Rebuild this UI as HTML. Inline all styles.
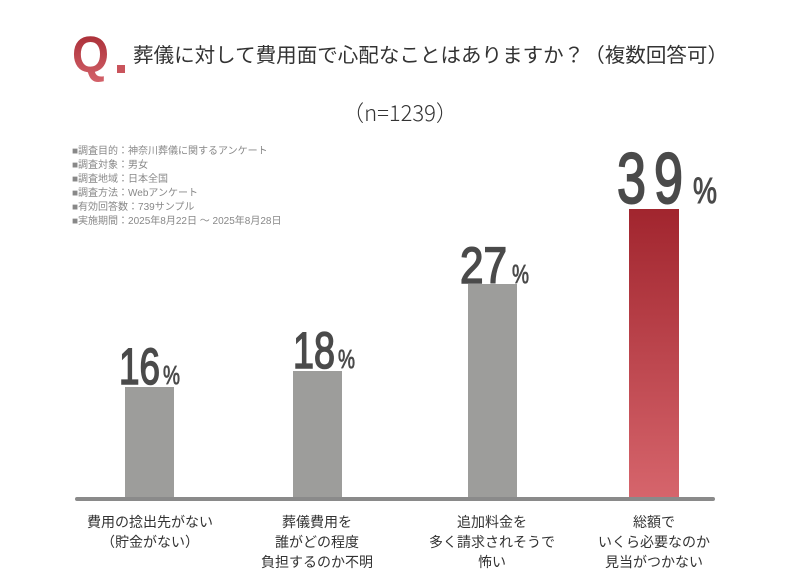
<!DOCTYPE html>
<html><head><meta charset="utf-8"><style>
html,body{margin:0;padding:0;background:#fff;}
svg{display:block;font-family:"Liberation Sans","Noto Sans CJK JP",sans-serif;}
</style></head><body>
<svg width="800" height="581" viewBox="0 0 800 581" xmlns="http://www.w3.org/2000/svg">
<defs>
<linearGradient id="gq" x1="0" y1="0" x2="0" y2="1"><stop offset="0" stop-color="#a3262f"/><stop offset="1" stop-color="#d4636b"/></linearGradient>
<linearGradient id="gb" x1="0" y1="0" x2="0" y2="1"><stop offset="0" stop-color="#a1252e"/><stop offset="1" stop-color="#d6656c"/></linearGradient>
</defs>
<text x="72" y="72" font-size="51" font-weight="bold" fill="url(#gq)" textLength="37" lengthAdjust="spacingAndGlyphs">Q</text>
<rect x="117" y="65" width="8" height="8" fill="#c9545c"/>
<text x="133" y="62" font-size="20" fill="#333" textLength="595" lengthAdjust="spacingAndGlyphs">葬儀に対して費用面で心配なことはありますか？（複数回答可）</text>
<text x="400" y="121" font-size="22" fill="#333" text-anchor="middle" font-family="'Noto Sans CJK JP',sans-serif" font-weight="300">（n=1239）</text>
<g font-size="10" fill="#888">
<text x="72" y="154">■調査目的：神奈川葬儀に関するアンケート</text>
<text x="72" y="168">■調査対象：男女</text>
<text x="72" y="182">■調査地域：日本全国</text>
<text x="72" y="196">■調査方法：Webアンケート</text>
<text x="72" y="210">■有効回答数：739サンプル</text>
<text x="72" y="224">■実施期間：2025年8月22日 ～ 2025年8月28日</text>
</g>
<rect x="125" y="387" width="49" height="111" fill="#9d9d9b"/>
<rect x="293" y="371" width="49" height="127" fill="#9d9d9b"/>
<rect x="468" y="284" width="49" height="214" fill="#9d9d9b"/>
<rect x="629" y="209" width="50" height="289" fill="url(#gb)"/>
<rect x="75" y="497" width="640" height="4" rx="2" fill="#8a8a8a"/>
<g fill="#4a4a4a" stroke="#4a4a4a" stroke-width="1.6">
<text x="119" y="384" font-size="51" textLength="41" lengthAdjust="spacingAndGlyphs">16</text>
<text x="163" y="384" font-size="26" textLength="17" lengthAdjust="spacingAndGlyphs" stroke-width="0.8">%</text>
<text x="293" y="368" font-size="51" textLength="42" lengthAdjust="spacingAndGlyphs">18</text>
<text x="338" y="368" font-size="26" textLength="17" lengthAdjust="spacingAndGlyphs" stroke-width="0.8">%</text>
<text x="460" y="283" font-size="51" textLength="47" lengthAdjust="spacingAndGlyphs">27</text>
<text x="512" y="283" font-size="26" textLength="17" lengthAdjust="spacingAndGlyphs" stroke-width="0.8">%</text>
<text x="617" y="203" font-size="71" textLength="29" lengthAdjust="spacingAndGlyphs" stroke-width="2">3</text>
<text x="654" y="203" font-size="71" textLength="29" lengthAdjust="spacingAndGlyphs" stroke-width="2">9</text>
<text x="693" y="203" font-size="36" textLength="24" lengthAdjust="spacingAndGlyphs" stroke-width="1">%</text>
</g>
<g font-size="14" fill="#333" text-anchor="middle">
<text x="150" y="527">費用の捻出先がない</text>
<text x="150" y="547">（貯金がない）</text>
<text x="317" y="527">葬儀費用を</text>
<text x="317" y="547">誰がどの程度</text>
<text x="317" y="567">負担するのか不明</text>
<text x="492" y="527">追加料金を</text>
<text x="492" y="547">多く請求されそうで</text>
<text x="492" y="567">怖い</text>
<text x="654" y="527">総額で</text>
<text x="654" y="547">いくら必要なのか</text>
<text x="654" y="567">見当がつかない</text>
</g>
</svg>
</body></html>
